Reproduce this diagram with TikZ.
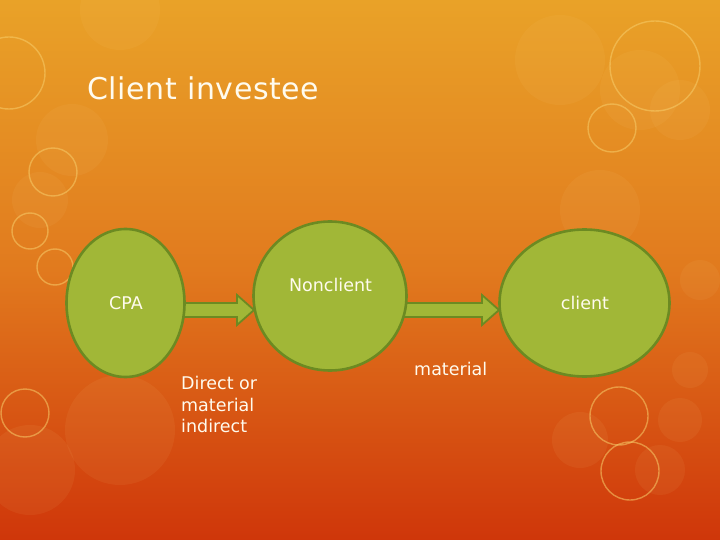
\documentclass[tikz,border=0pt]{standalone}
\usepackage{fontspec}
\setmainfont{DejaVu Sans}
\newfontfamily\titlefont[LetterSpace=2]{DejaVu Sans}
\usetikzlibrary{calc,shapes.geometric}
\definecolor{bgtop}{HTML}{E9A228}
\definecolor{bgmid}{HTML}{E17A1E}
\definecolor{bgbot}{HTML}{CF360A}
\definecolor{leaf}{HTML}{A1B737}
\definecolor{leafline}{HTML}{6C8A22}
\definecolor{txt}{HTML}{FFFBEE}
\definecolor{ring}{HTML}{F7CD6A}
\definecolor{glow}{HTML}{F8D488}
\begin{document}
\begin{tikzpicture}[x=1pt,y=-1pt,
  ellbox/.style={ellipse, draw=leafline, fill=leaf, line width=2.6pt, inner sep=0pt},
  lbl/.style={text=txt, inner sep=0pt, font=\fontsize{17.5}{21.5}\selectfont},
  blk/.style={draw=leafline, fill=leaf, line width=1.8pt, line join=miter},
  ringc/.style={draw=ring, draw opacity=0.55, line width=1.4pt},
  glowc/.style={fill=glow, fill opacity=0.07}]
\useasboundingbox (0,0) rectangle (720,540);
\shade[top color=bgtop, bottom color=bgbot, middle color=bgmid] (0,0) rectangle (720,540);
% faint bokeh
\fill[glowc] (72,140) circle (36);
\fill[glowc] (40,200) circle (28);
\fill[glowc] (560,60) circle (45);
\fill[glowc] (640,90) circle (40);
\fill[glowc] (600,210) circle (40);
\fill[glowc] (680,110) circle (30);
\fill[glowc] (700,280) circle (20);
\fill[glowc] (30,470) circle (45);
\fill[glowc] (120,430) circle (55);
\fill[glowc] (580,440) circle (28);
\fill[glowc] (680,420) circle (22);
\fill[glowc] (660,470) circle (25);
\fill[glowc] (120,10) circle (40);
\fill[glowc] (690,370) circle (18);
% ring circles
\draw[ringc] (9,73) circle (36);
\draw[ringc] (53,172) circle (24);
\draw[ringc] (30,231) circle (18);
\draw[ringc] (55,267) circle (18);
\draw[ringc] (25,413) circle (24);
\draw[ringc] (655,66) circle (45);
\draw[ringc] (612,128) circle (24);
\draw[ringc] (619,416) circle (29);
\draw[ringc] (630,471) circle (29);
% arrows (behind the ellipses)
\coordinate (a1s) at (180,310);
\coordinate (a1e) at (254,310);
\coordinate (a2s) at (402,310);
\coordinate (a2e) at (499,310);
\draw[blk] ($(a1s)+(0,-7)$) -- ($(a1e)+(-17,-7)$) -- ($(a1e)+(-17,-15)$) -- (a1e)
  -- ($(a1e)+(-17,15)$) -- ($(a1e)+(-17,7)$) -- ($(a1s)+(0,7)$) -- cycle;
\draw[blk] ($(a2s)+(0,-7)$) -- ($(a2e)+(-17,-7)$) -- ($(a2e)+(-17,-15)$) -- (a2e)
  -- ($(a2e)+(-17,15)$) -- ($(a2e)+(-17,7)$) -- ($(a2s)+(0,7)$) -- cycle;
% ellipses
\node[ellbox, minimum width=118, minimum height=148] (cpa) at (125.5,303) {};
\node[ellbox, minimum width=153, minimum height=149] (non) at (330,296) {};
\node[ellbox, minimum width=170, minimum height=147] (cli) at (584.5,303) {};
% title and labels
\node[anchor=base west, inner sep=0pt, text=txt, font=\titlefont\fontsize{30}{36}\selectfont] (title) at (87,100) {Client investee};
\node[lbl, anchor=base] (tcpa) at (126,309.5) {CPA};
\node[lbl, anchor=base] (tnon) at (330.5,291.5) {Nonclient};
\node[lbl, anchor=base] (tcli) at (585,309.5) {client};
\node[lbl, anchor=north west, align=left] (tdir) at (181,376.5) {Direct or\\material\\indirect};
\node[lbl, anchor=base west] (tmat) at (414,375.5) {material};
\end{tikzpicture}
\end{document}
